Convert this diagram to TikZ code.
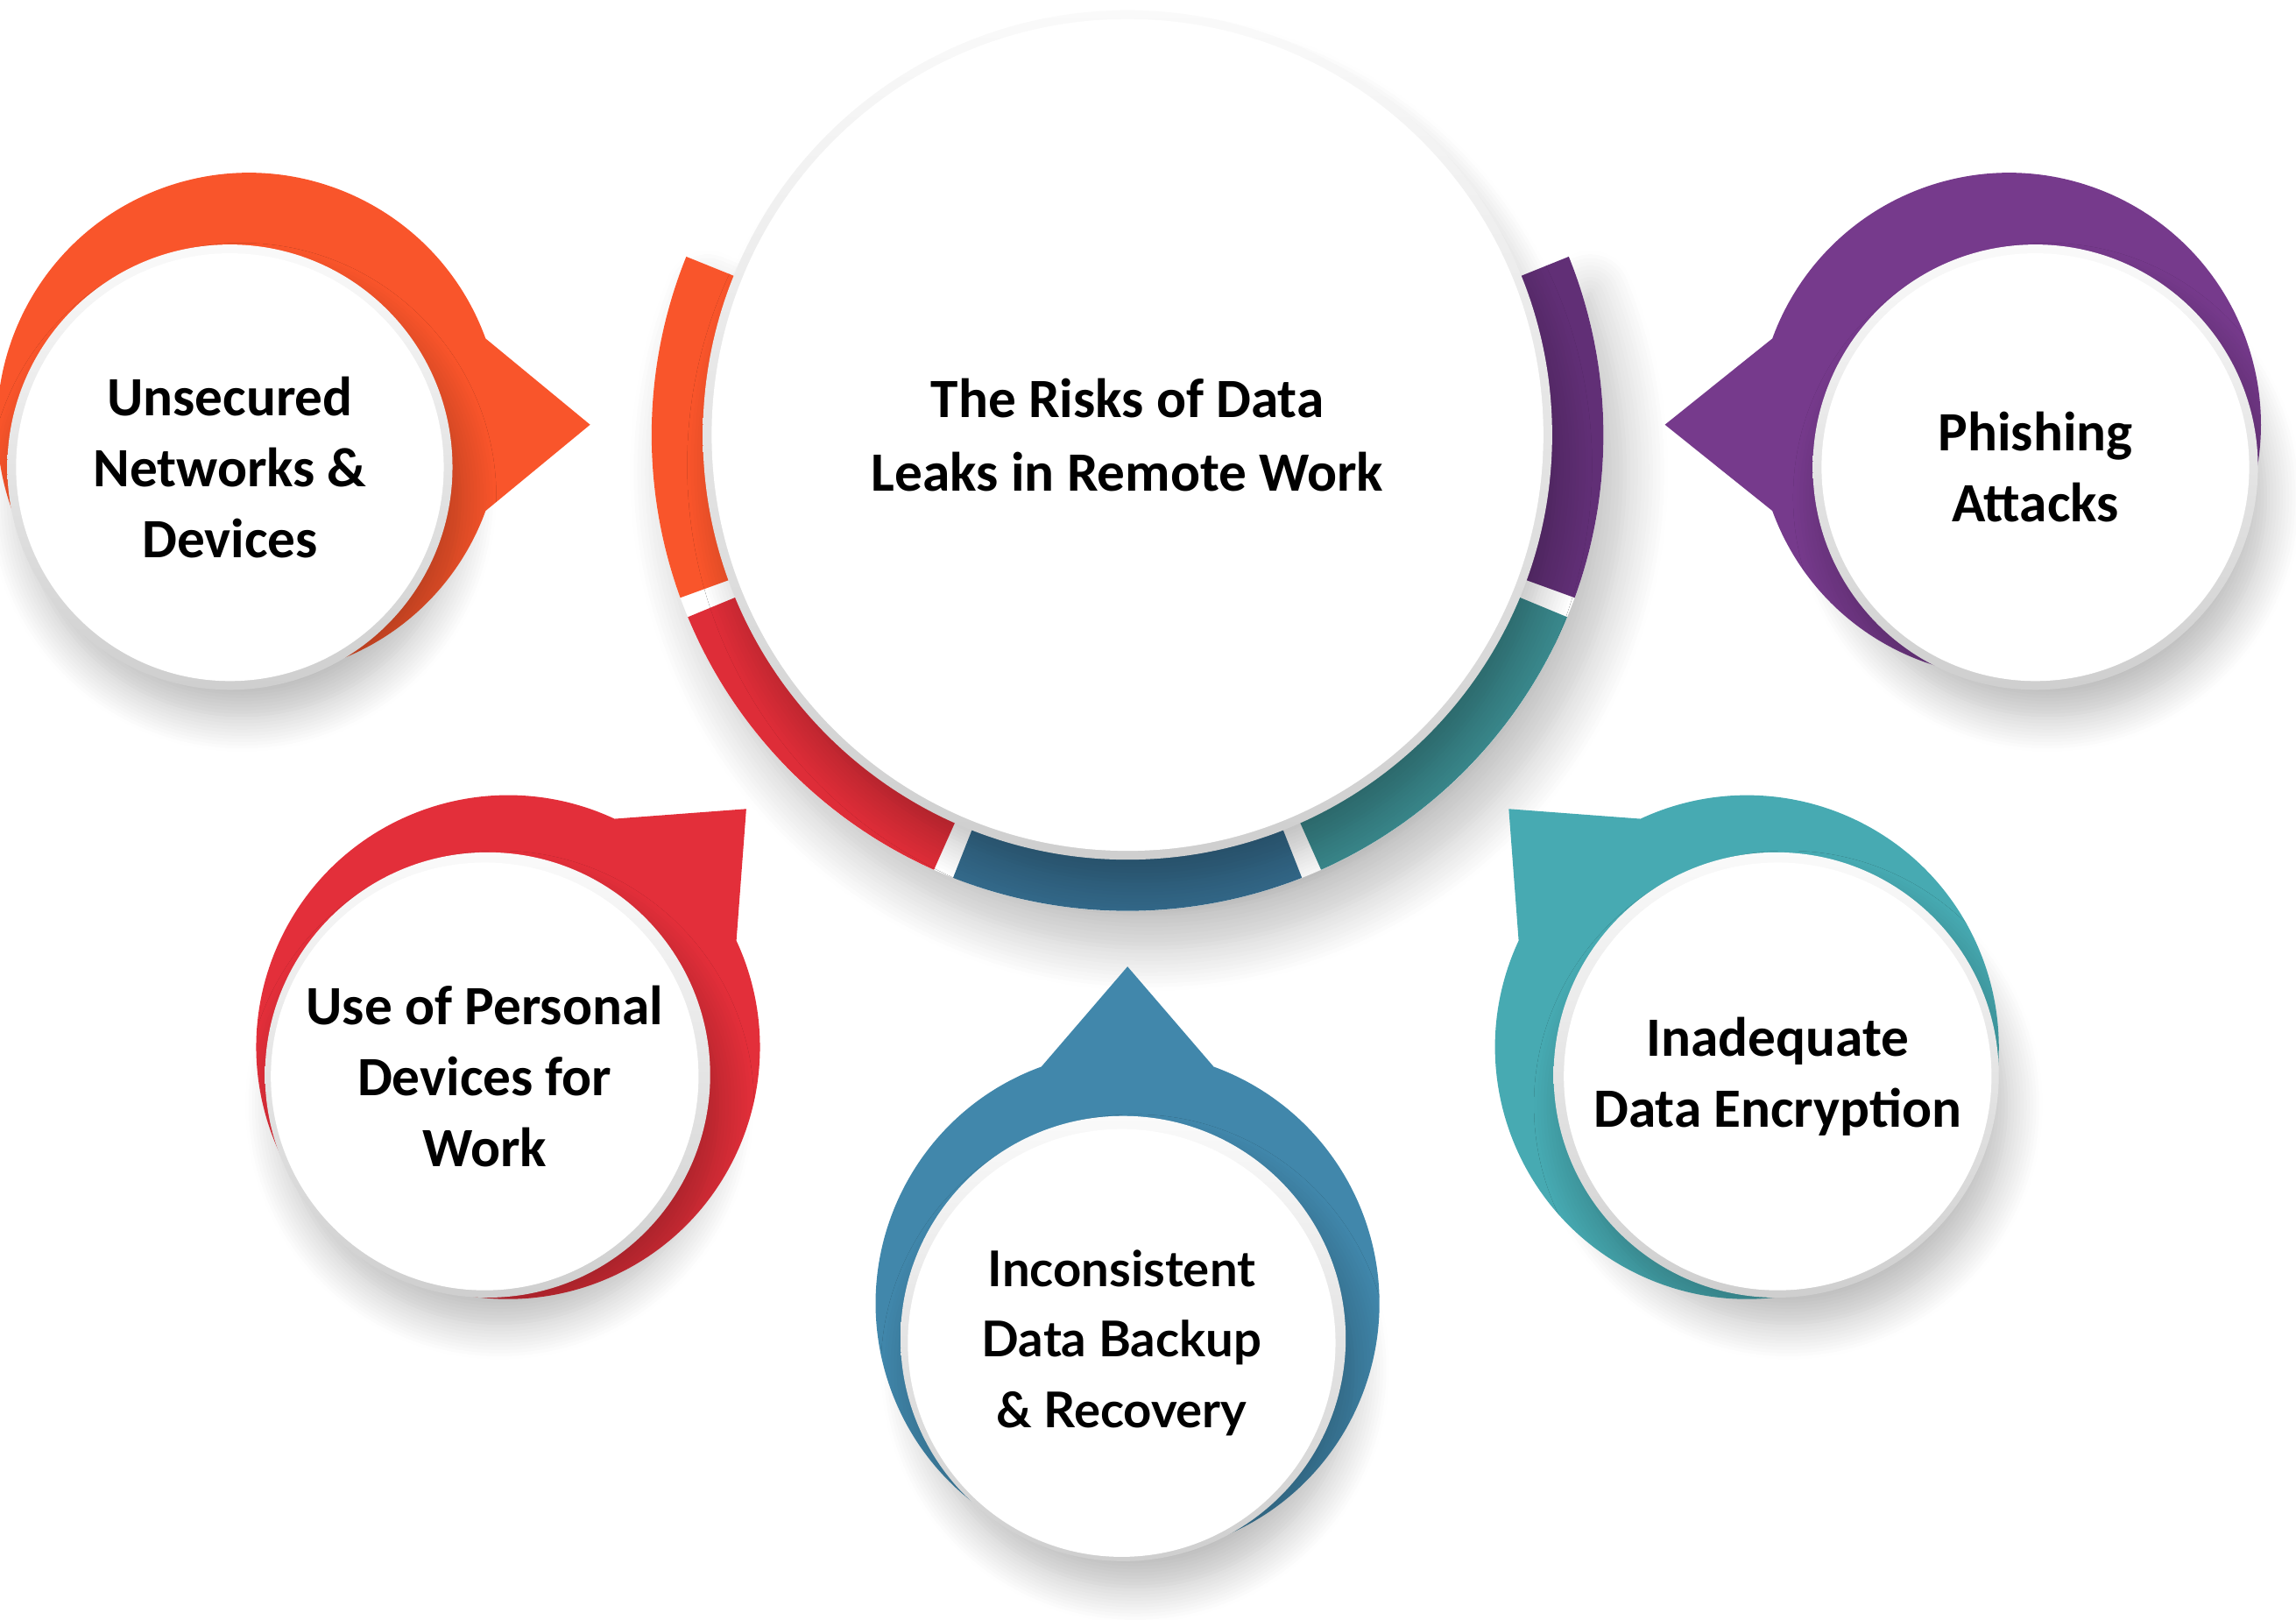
\documentclass[tikz,border=0pt]{standalone}
\usepackage{fontspec}
\setmainfont{Carlito}
\newfontfamily\latofont{Lato}
\usetikzlibrary{calc, positioning, shadows.blur}
\definecolor{c-orange}{HTML}{F9552B}
\definecolor{c-red}{HTML}{E32F3A}
\definecolor{c-blue}{HTML}{4187AB}
\definecolor{c-teal}{HTML}{47AAB2}
\definecolor{c-purple}{HTML}{763A8C}
\definecolor{r-red}{HTML}{DE2D38}
\definecolor{r-blue}{HTML}{346A8B}
\definecolor{r-teal}{HTML}{3A898D}
\definecolor{r-purple}{HTML}{612F76}
\tikzstyle{ringback} = [fill = white, blur shadow = {shadow xshift = 7pt,
  shadow yshift = -12pt, shadow blur radius = 14pt, shadow blur steps = 12,
  shadow opacity = 25}]
\tikzstyle{rim} = [
  top color = gray!4, bottom color = gray!38,
  blur shadow = {shadow xshift = 4pt, shadow yshift = -10pt, shadow scale = 0.98,
    shadow blur radius = 12pt, shadow blur steps = 12, shadow opacity = 28}
]
\tikzstyle{bubble} = [circle, fill = white, inner sep = 0, minimum size =
  4.88cm, align = center, font = \bfseries\fontsize{18}{23}\selectfont]
\tikzstyle{hub} = [circle, fill = white, inner sep = 0, minimum size =
  9.49cm, align = center, font = \bfseries\fontsize{18}{24}\selectfont]

\begin{document}
\begin{tikzpicture}[x = 0.016716cm, y = 0.016716cm]
  \useasboundingbox (0, 0) rectangle (1568, 1106);
  \coordinate (c-hub) at (770, 809);

  \path [ringback] ($(c-hub) + (158:325)$) arc [start angle = 158, end angle = 382, radius = 325]
    -- ($(c-hub) + (382:270)$) arc [start angle = 382, end angle = 158, radius = 270] -- cycle;
  \fill [c-orange] ($(c-hub) + (158:325)$) arc [start angle = 158, end angle = 200, radius = 325]
    -- ($(c-hub) + (200:270)$) arc [start angle = 200, end angle = 158, radius = 270] -- cycle;
  \fill [r-red] ($(c-hub) + (202.5:325)$) arc [start angle = 202.5, end angle = 246, radius = 325]
    -- ($(c-hub) + (246:270)$) arc [start angle = 246, end angle = 202.5, radius = 270] -- cycle;
  \fill [r-blue] ($(c-hub) + (248.5:325)$) arc [start angle = 248.5, end angle = 291.5, radius = 325]
    -- ($(c-hub) + (291.5:270)$) arc [start angle = 291.5, end angle = 248.5, radius = 270] -- cycle;
  \fill [r-teal] ($(c-hub) + (294:325)$) arc [start angle = 294, end angle = 337.5, radius = 325]
    -- ($(c-hub) + (337.5:270)$) arc [start angle = 337.5, end angle = 294, radius = 270] -- cycle;
  \fill [r-purple] ($(c-hub) + (340:325)$) arc [start angle = 340, end angle = 382, radius = 325]
    -- ($(c-hub) + (382:270)$) arc [start angle = 382, end angle = 340, radius = 270] -- cycle;

  \path [rim] (c-hub) circle [radius = 290];
  \node [hub] (hub) at (c-hub) {The Risks of Data\\Leaks in Remote Work};

  \coordinate (c-networks) at (170, 816);
  \fill [c-orange] ($(c-networks) + (20:172)$) arc [start angle = 20, end angle = 340, radius = 172]
    -- ($(c-networks) + (0:233)$) -- cycle;
  \path [rim] (157, 787) circle [radius = 152];
  \node [bubble] (risk-networks) at (157, 787) {Unsecured\\Networks \&\\Devices};

  \coordinate (c-phishing) at (1372, 816);
  \fill [c-purple] ($(c-phishing) + (200:172)$) arc [start angle = 200, end angle = 520, radius = 172]
    -- ($(c-phishing) + (180:235)$) -- cycle;
  \path [rim] (1390, 787) circle [radius = 152];
  \node [bubble] (risk-phishing) at (1390, 787) {Phishing\\Attacks};

  \coordinate (c-devices) at (347, 391);
  \fill [c-red] ($(c-devices) + (65:172)$) arc [start angle = 65, end angle = 385, radius = 172]
    -- ($(c-devices) + (45:230)$) -- cycle;
  \path [rim] (333, 372) circle [radius = 152];
  \node [bubble] (risk-devices) at (331, 371) {Use of Personal\\Devices for\\Work};

  \coordinate (c-encryption) at (1193, 391);
  \fill [c-teal] ($(c-encryption) + (155:172)$) arc [start angle = 155, end angle = 475, radius = 172]
    -- ($(c-encryption) + (135:230)$) -- cycle;
  \path [rim] (1213, 372) circle [radius = 152];
  \node [bubble] (risk-encryption) at (1214, 371) {Inadequate\\Data Encryption};

  \coordinate (c-backup) at (770, 216);
  \fill [c-blue] ($(c-backup) + (110:172)$) arc [start angle = 110, end angle = 430, radius = 172]
    -- ($(c-backup) + (90:230)$) -- cycle;
  \path [rim] (767, 192) circle [radius = 152];
  \node [bubble, font = \latofont\bfseries\fontsize{16}{23}\selectfont] (risk-backup)
    at (766, 189) {Inconsistent\\Data Backup\\\& Recovery};
\end{tikzpicture}
\end{document}
